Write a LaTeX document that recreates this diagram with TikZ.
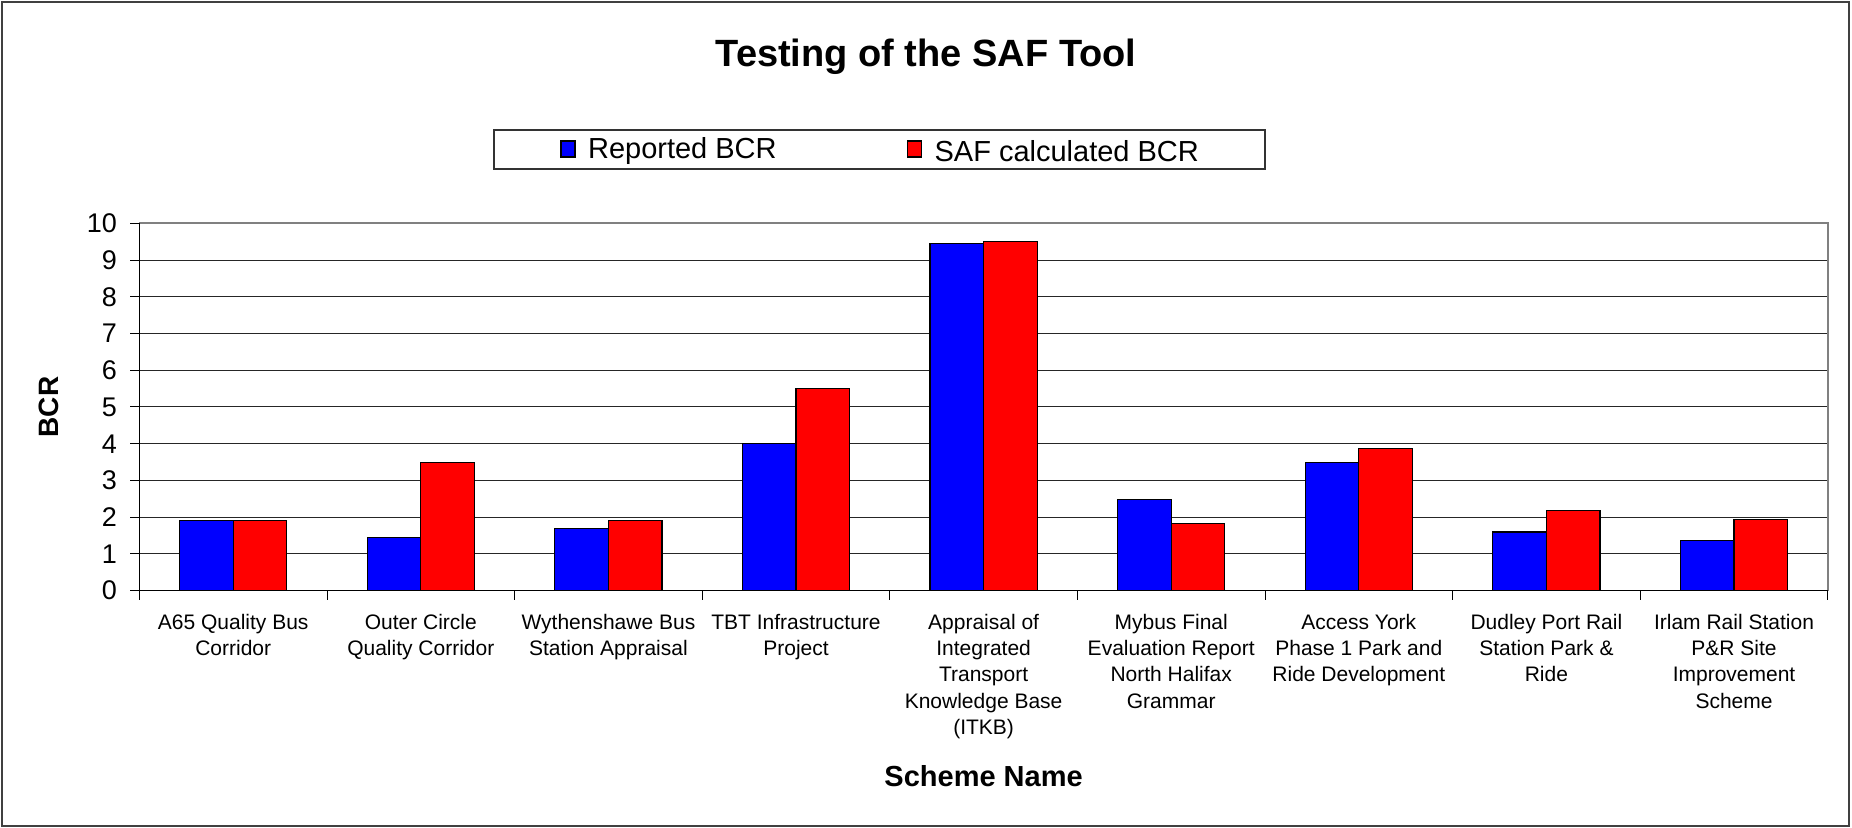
\documentclass[tikz,border=0pt]{standalone}
\usepackage{fontspec}
\setmainfont{Liberation Sans}
\usetikzlibrary{positioning}

\begin{document}
\begin{tikzpicture}[x=0.5pt,y=-0.5pt,
        reported/.style={draw=black,line width=0.6pt,fill=blue},
        safcalc/.style={draw=black,line width=0.6pt,fill=red},
        gridline/.style={black!85,line width=0.5pt},
        ticklabel/.style={anchor=east,font=\fontsize{13.5}{16}\selectfont},
        scheme/.style={anchor=north,align=center,font=\fontsize{10.5}{13.15}\selectfont},
        axistitle/.style={font=\bfseries\fontsize{14.5}{17}\selectfont},
        keytext/.style={font=\fontsize{14.5}{17}\selectfont},
    ]
    \useasboundingbox (0,0) rectangle (1852,828);
    \draw[black!75,line width=1.2pt] (2,2) rectangle (1849,826);

    \node[anchor=base,font=\bfseries\fontsize{19}{23}\selectfont] (title) at (926,67) {Testing of the SAF Tool};

    % legend
    \node[draw=black!80,line width=0.7pt,minimum width=385.6pt,minimum height=19.5pt] (legend) at (879.4,149.5) {};
    \node[reported,minimum width=7pt,minimum height=8pt,inner sep=0] (keyrep) at (568,149) {};
    \node[keytext,right=2.7pt of keyrep,yshift=-1pt] (txtrep) {Reported BCR};
    \node[safcalc,minimum width=7pt,minimum height=8pt,inner sep=0] (keysaf) at (914.5,149) {};
    \node[keytext,right=2.7pt of keysaf,yshift=-1pt] (txtsaf) {SAF calculated BCR};

    % plot area: one unit = one scheme across, one BCR up
    \begin{scope}[shift={(69.7pt,-295.35pt)},x=93.8pt,y=18.37pt]
        \foreach \v in {1,...,9}
            \draw[gridline] (0,\v) -- (9,\v);
        \draw[gray,line width=1pt] (0,10) -- (9,10) -- (9,0);
        \foreach \v in {0,...,10}
            \draw[line width=0.5pt] (0,\v) -- ++(-4.7pt,0) node[ticklabel,xshift=-3pt] (ytick\v) {\v};
        \foreach \c in {0,...,9}
            \draw[line width=0.5pt] (\c,0) -- ++(0,-4.7pt);
        \foreach \rep/\saf/\name [count=\i from 0] in {
                1.9/1.9/{A65 Quality Bus\\Corridor},
                1.45/3.5/{Outer Circle\\Quality Corridor},
                1.7/1.9/{Wythenshawe Bus\\Station Appraisal},
                4.0/5.5/{TBT Infrastructure\\Project},
                9.45/9.5/{Appraisal of\\Integrated\\Transport\\Knowledge Base\\(ITKB)},
                2.48/1.82/{Mybus Final\\Evaluation Report\\North Halifax\\Grammar},
                3.5/3.88/{Access York\\Phase 1 Park and\\Ride Development},
                1.6/2.18/{Dudley Port Rail\\Station Park \&\\Ride},
                1.36/1.94/{Irlam Rail Station\\P\&R Site\\Improvement\\Scheme}} {
            \draw[reported] (\i+0.2143,0) rectangle (\i+0.5,\rep);
            \draw[safcalc] (\i+0.5,0) rectangle (\i+0.7857,\saf);
            \node[scheme,yshift=-8.2pt] (scheme\i) at (\i+0.5,0) {\name};
        }
        \draw[line width=0.7pt] (0,10) -- (0,0) -- (9,0);
        \node[axistitle,anchor=base] (xtitle) at (4.5,-5.335) {Scheme Name};
        \node[axistitle,rotate=90,font=\bfseries\fontsize{14}{17}\selectfont] (ytitle) at (-45.5pt,5) {BCR};
    \end{scope}
\end{tikzpicture}
\end{document}
